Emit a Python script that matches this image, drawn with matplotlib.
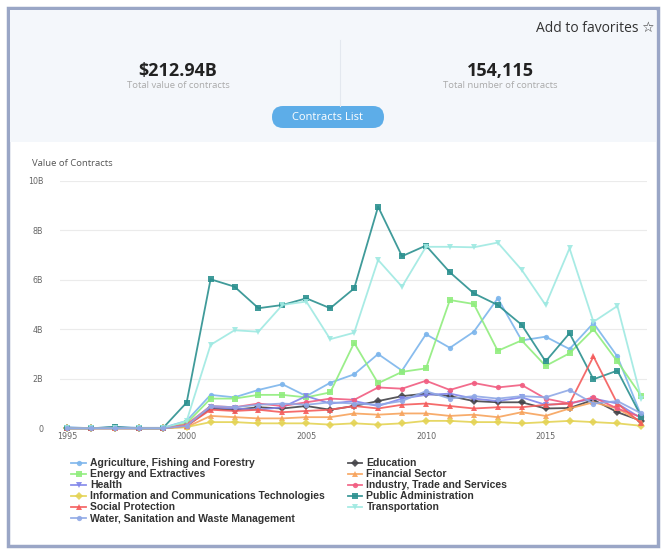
import matplotlib
matplotlib.use("Agg")
import matplotlib.pyplot as plt
from matplotlib.patches import Rectangle, FancyBboxPatch

years = list(range(1995, 2020))

agriculture = [0.05, 0.0, 0.06, 0.02, 0.02, 0.3, 1.35, 1.25, 1.55, 1.78, 1.3, 1.84, 2.18, 3.0, 2.33, 3.8, 3.25, 3.9, 5.25, 3.55, 3.7, 3.2, 4.25, 2.9, 0.5]
education = [0.02, 0.0, 0.03, 0.0, 0.0, 0.1, 0.8, 0.75, 0.85, 0.8, 0.9, 0.75, 0.9, 1.1, 1.3, 1.4, 1.3, 1.1, 1.05, 1.05, 0.8, 0.82, 1.15, 0.65, 0.3]
energy = [0.0, 0.0, 0.0, 0.0, 0.0, 0.2, 1.2, 1.2, 1.35, 1.35, 1.25, 1.45, 3.45, 1.82, 2.28, 2.42, 5.18, 5.02, 3.13, 3.55, 2.52, 3.03, 4.0, 2.7, 1.3]
financial = [0.0, 0.0, 0.0, 0.0, 0.0, 0.05, 0.5, 0.45, 0.4, 0.4, 0.45, 0.45, 0.6, 0.55, 0.6, 0.6, 0.5, 0.55, 0.45, 0.65, 0.5, 0.8, 1.05, 0.8, 0.25]
health = [0.0, 0.0, 0.0, 0.0, 0.0, 0.1, 0.85, 0.8, 0.75, 0.85, 1.3, 1.0, 1.1, 0.9, 1.2, 1.35, 1.4, 1.2, 1.1, 1.25, 0.95, 1.0, 1.2, 1.0, 0.4]
industry = [0.0, 0.0, 0.0, 0.0, 0.0, 0.15, 0.9, 0.85, 1.0, 0.9, 1.05, 1.2, 1.15, 1.65, 1.6, 1.92, 1.55, 1.83, 1.65, 1.75, 1.2, 1.0, 1.25, 0.8, 0.45]
ict = [0.0, 0.0, 0.0, 0.0, 0.0, 0.05, 0.25, 0.25, 0.2, 0.2, 0.2, 0.15, 0.2, 0.15, 0.2, 0.3, 0.3, 0.25, 0.25, 0.2, 0.25, 0.3, 0.25, 0.2, 0.1]
public_admin = [0.0, 0.0, 0.05, 0.0, 0.0, 1.04, 6.02, 5.72, 4.85, 4.98, 5.25, 4.85, 5.65, 8.95, 6.95, 7.38, 6.3, 5.45, 4.98, 4.18, 2.7, 3.84, 1.98, 2.33, 0.47]
social = [0.0, 0.0, 0.0, 0.0, 0.0, 0.1, 0.75, 0.7, 0.75, 0.65, 0.7, 0.75, 0.9, 0.8, 0.95, 1.0, 0.9, 0.8, 0.85, 0.85, 0.95, 1.0, 2.9, 1.0, 0.2]
transportation = [0.0, 0.0, 0.0, 0.0, 0.0, 0.3, 3.37, 3.96, 3.9, 4.98, 5.12, 3.6, 3.86, 6.8, 5.72, 7.33, 7.33, 7.31, 7.5, 6.4, 4.98, 7.27, 4.3, 4.94, 1.2]
water = [0.0, 0.0, 0.0, 0.0, 0.0, 0.1, 0.9, 0.85, 0.95, 1.0, 0.95, 1.05, 1.0, 0.95, 1.1, 1.5, 1.2, 1.3, 1.2, 1.3, 1.25, 1.55, 1.0, 1.1, 0.6]

series = [
    ("Agriculture, Fishing and Forestry", agriculture, "#7cb5ec", "o"),
    ("Education", education, "#434348", "D"),
    ("Energy and Extractives", energy, "#90ed7d", "s"),
    ("Financial Sector", financial, "#f7a35c", "^"),
    ("Health", health, "#8085e9", "v"),
    ("Industry, Trade and Services", industry, "#f15c80", "o"),
    ("Information and Communications Technologies", ict, "#e4d354", "D"),
    ("Public Administration", public_admin, "#2b908f", "s"),
    ("Social Protection", social, "#f45b5b", "^"),
    ("Transportation", transportation, "#9fe9e2", "v"),
    ("Water, Sanitation and Waste Management", water, "#8fa8e6", "o"),
]

W, H = 667, 554
fig = plt.figure(figsize=(W / 100, H / 100), dpi=100)
fig.patch.set_facecolor("white")

# page decorations in pixel coords
deco = fig.add_axes([0, 0, 1, 1])
deco.set_xlim(0, W)
deco.set_ylim(H, 0)
deco.axis("off")
deco.add_patch(Rectangle((8, 8), 650, 538, facecolor="white", edgecolor="#9aa6c6", lw=2.5))
deco.add_patch(Rectangle((10, 10), 646, 132, facecolor="#f4f7fb", edgecolor="none"))
deco.plot([340, 340], [40, 106], color="#e3e8ef", lw=0.8)
deco.text(655, 28, "Add to favorites \u2606", ha="right", va="center", fontsize=10,
          color="#333333", family=["Open Sans", "DejaVu Sans"])
deco.text(178, 71, "$212.94B", ha="center", va="center", fontsize=13, fontweight="bold",
          color="#222222", family="Open Sans")
deco.text(178, 86, "Total value of contracts", ha="center", va="center", fontsize=6.8,
          color="#aaaaaa", family="Open Sans")
deco.text(500, 71, "154,115", ha="center", va="center", fontsize=13, fontweight="bold",
          color="#222222", family="Open Sans")
deco.text(500, 86, "Total number of contracts", ha="center", va="center", fontsize=6.8,
          color="#aaaaaa", family="Open Sans")
deco.add_patch(FancyBboxPatch((272, 106), 112, 22, boxstyle="round,pad=0,rounding_size=11",
                              facecolor="#5dade8", edgecolor="none"))
deco.text(328, 117.5, "Contracts List", ha="center", va="center", fontsize=8,
          color="white", family="Open Sans")
deco.text(32, 163, "Value of Contracts", ha="left", va="center", fontsize=6.8,
          color="#555555", family="Open Sans")

# main chart
x0, x1 = 60, 647
y_top, y_bot = 180.7, 428.3
ax = fig.add_axes([x0 / W, (H - y_bot) / H, (x1 - x0) / W, (y_bot - y_top) / H])
px_per_year = 23.93
ax.set_xlim(1995 - 7 / px_per_year, 1995 + (x1 - x0 - 7) / px_per_year)
ax.set_ylim(0, 10)
ax.set_facecolor("none")

for name, vals, color, mk in series:
    ax.plot(years, vals, color=color, lw=1.3, marker=mk, markersize=3.8,
            markeredgewidth=0, alpha=0.9, label=name, clip_on=False)

ax.set_yticks([0, 2, 4, 6, 8, 10])
ax.set_yticklabels(["0", "2B", "4B", "6B", "8B", "10B"])
ax.set_xticks([1995, 2000, 2005, 2010, 2015])
ax.grid(axis="y", color="#ebebeb", lw=0.8)
ax.set_axisbelow(True)
for s in ax.spines.values():
    s.set_visible(False)
ax.tick_params(axis="both", length=0, labelsize=5.8, labelcolor="#666666")
ax.tick_params(axis="y", pad=12)
ax.tick_params(axis="x", pad=3)

handles, labels = ax.get_legend_handles_labels()
order = [0, 2, 4, 6, 8, 10, 1, 3, 5, 7, 9]
leg = fig.legend([handles[i] for i in order], [labels[i] for i in order],
                 loc="upper left", bbox_to_anchor=(64 / W, 1 - 451 / H), ncol=2,
                 frameon=False, handlelength=1.4, handletextpad=0.4,
                 columnspacing=2.2, labelspacing=0.1, borderpad=0.2,
                 prop={"family": "Liberation Sans", "weight": "bold", "size": 7.5})
for t in leg.get_texts():
    t.set_color("#333333")

fig.savefig("out.png", dpi=100)
